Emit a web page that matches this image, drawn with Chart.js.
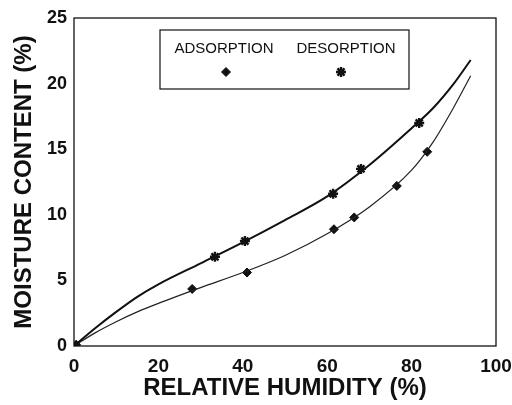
<!DOCTYPE html>
<html>
<head>
<meta charset="utf-8">
<script src="https://cdn.jsdelivr.net/npm/chart.js@4.4.1/dist/chart.umd.min.js"></script>
<style>
  html, body { margin: 0; padding: 0; background: #fff; }
  #wrap { width: 512px; height: 405px; }
</style>
</head>
<body>
<div id="wrap"><canvas id="chart" width="512" height="405"></canvas></div>
<script>
// fitted curves
const curveRH = [0, 5, 10, 15, 20, 30, 40, 50, 60, 70, 80, 85, 90, 94];
const desorptionCurve = [0, 1.35, 2.6, 3.75, 4.7, 6.3, 7.9, 9.6, 11.4, 13.8, 16.6, 18.1, 20.0, 21.8];
const adsorptionCurve = [0, 1.0, 1.85, 2.6, 3.25, 4.45, 5.6, 6.9, 8.55, 10.6, 13.4, 15.5, 18.2, 20.6];

// measured points
const adsorptionRH = [0.5, 28, 41, 61.6, 66.4, 76.5, 83.7];
const adsorptionMC = [0.1, 4.35, 5.6, 8.9, 9.8, 12.2, 14.8];
const desorptionRH = [33.4, 40.5, 61.4, 68, 81.8];
const desorptionMC = [6.8, 8.0, 11.6, 13.5, 17.0];

const xTicks = [0, 20, 40, 60, 80, 100];
const yTicks = [0, 5, 10, 15, 20, 25];

const ink = '#111';
const toXY = (xs, ys) => xs.map((x, i) => ({ x, y: ys[i] }));

const framePlugin = {
  id: 'frame',
  afterDraw(chart) {
    const { ctx, chartArea: a } = chart;
    ctx.save();
    ctx.strokeStyle = ink;
    ctx.lineWidth = 1.3;
    ctx.strokeRect(a.left, a.top, a.right - a.left, a.bottom - a.top);

    // legend box
    ctx.lineWidth = 1.2;
    ctx.strokeRect(160, 30, 249, 59);
    ctx.fillStyle = ink;
    ctx.font = '15px "Liberation Sans", Arial, sans-serif';
    ctx.textAlign = 'center';
    ctx.textBaseline = 'middle';
    ctx.fillText('ADSORPTION', 224, 49);
    ctx.fillText('DESORPTION', 346, 49);
    const ds = chart.data.datasets;
    for (const [d, x] of [[ds[2], 226], [ds[3], 341]]) {
      ctx.lineWidth = d.borderWidth;
      Chart.helpers.drawPoint(ctx, {
        pointStyle: d.pointStyle, radius: d.pointRadius, borderWidth: d.borderWidth, rotation: 0
      }, x, 72);
    }
    ctx.restore();
  }
};

new Chart(document.getElementById('chart'), {
  type: 'scatter',
  data: {
    datasets: [
      {
        label: 'Desorption fit',
        data: toXY(curveRH, desorptionCurve),
        showLine: true,
        borderColor: ink,
        borderWidth: 2,
        pointRadius: 0,
        cubicInterpolationMode: 'monotone'
      },
      {
        label: 'Adsorption fit',
        data: toXY(curveRH, adsorptionCurve),
        showLine: true,
        borderColor: '#222',
        borderWidth: 1.2,
        pointRadius: 0,
        cubicInterpolationMode: 'monotone'
      },
      {
        label: 'ADSORPTION',
        data: toXY(adsorptionRH, adsorptionMC),
        pointStyle: 'rectRot',
        pointRadius: 4.5,
        backgroundColor: ink,
        borderColor: ink,
        borderWidth: 1
      },
      {
        label: 'DESORPTION',
        data: toXY(desorptionRH, desorptionMC),
        pointStyle: 'star',
        pointRadius: 5,
        backgroundColor: ink,
        borderColor: ink,
        borderWidth: 2.4
      }
    ]
  },
  options: {
    responsive: false,
    animation: false,
    events: [],
    layout: { padding: { top: 18, right: 16, left: 0, bottom: 0 } },
    plugins: {
      legend: { display: false },
      tooltip: { enabled: false }
    },
    scales: {
      x: {
        type: 'linear',
        min: 0, max: 100,
        afterFit: s => { s.height = 59; s.paddingRight = 0; s.paddingLeft = 0; },
        afterBuildTicks: s => { s.ticks = xTicks.map(v => ({ value: v })); },
        grid: { display: false, drawTicks: false },
        border: { display: false },
        ticks: {
          color: ink, padding: 9, maxRotation: 0,
          font: { family: '"Liberation Sans", Arial, sans-serif', size: 19, weight: 'bold' }
        },
        title: {
          display: true, text: 'RELATIVE HUMIDITY (%)', color: ink,
          padding: { top: 0, bottom: 2 },
          font: { family: '"Liberation Sans", Arial, sans-serif', size: 24, weight: 'bold' }
        }
      },
      y: {
        type: 'linear',
        min: 0, max: 25,
        afterFit: s => { s.width = 74; s.paddingTop = 0; s.paddingBottom = 0; },
        afterBuildTicks: s => { s.ticks = yTicks.map(v => ({ value: v })); },
        grid: { display: false, drawTicks: false },
        border: { display: false },
        ticks: {
          color: ink, padding: 7,
          font: { family: '"Liberation Sans", Arial, sans-serif', size: 18, weight: 'bold' }
        },
        title: {
          display: true, text: 'MOISTURE CONTENT (%)', color: ink,
          padding: { top: 10, bottom: 0 },
          font: { family: '"Liberation Sans", Arial, sans-serif', size: 24, weight: 'bold' }
        }
      }
    }
  },
  plugins: [framePlugin]
});
</script>
</body>
</html>
